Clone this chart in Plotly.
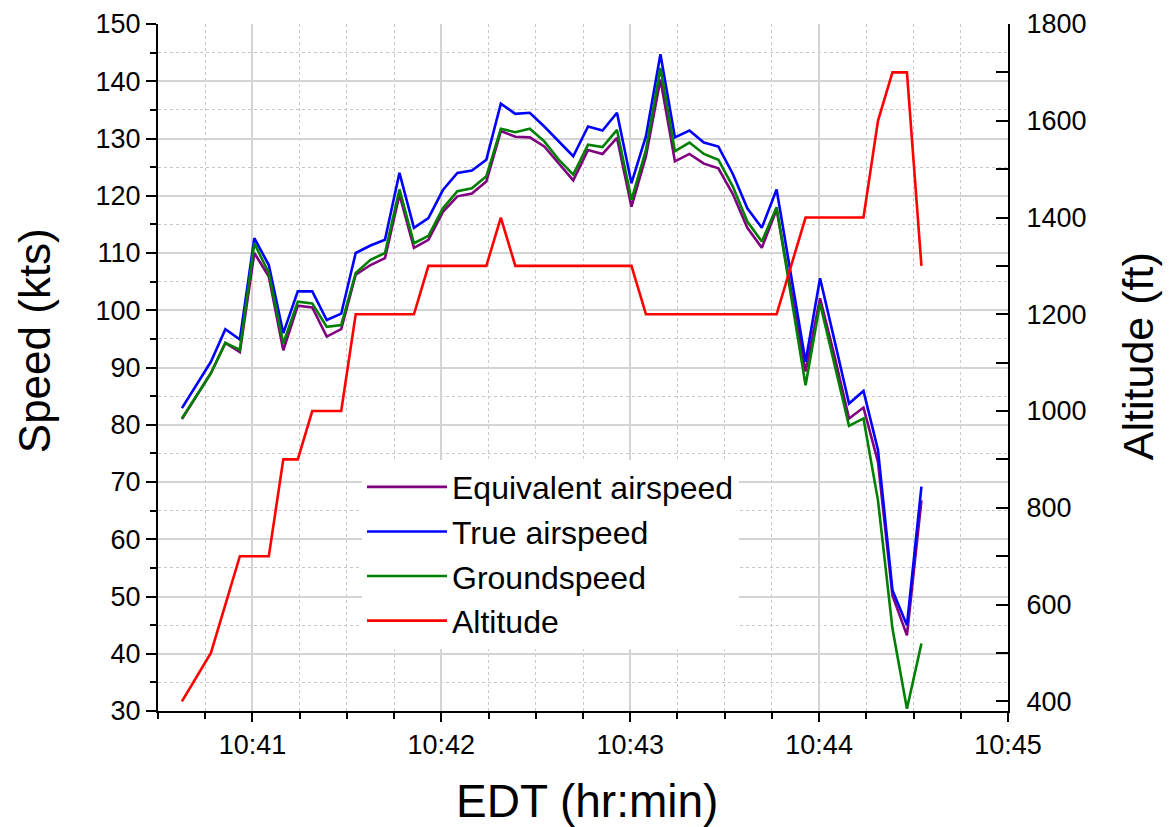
import plotly.graph_objects as go

DATE = "2015-06-20"

time_labels = [
    "10:40:37.6", "10:40:46.8", "10:40:51.4", "10:40:56.0",
    "10:41:00.6", "10:41:05.2", "10:41:09.8", "10:41:14.4", "10:41:19.0",
    "10:41:23.6", "10:41:28.2", "10:41:32.8", "10:41:37.5", "10:41:42.1",
    "10:41:46.7", "10:41:51.3", "10:41:55.9",
    "10:42:00.5", "10:42:05.1", "10:42:09.7", "10:42:14.3", "10:42:18.9",
    "10:42:23.5", "10:42:28.1", "10:42:32.7", "10:42:37.3", "10:42:41.9",
    "10:42:46.6", "10:42:51.2", "10:42:55.8",
    "10:43:00.4", "10:43:05.0", "10:43:09.6", "10:43:14.2", "10:43:18.8",
    "10:43:23.4", "10:43:28.0", "10:43:32.6", "10:43:37.2", "10:43:41.8",
    "10:43:46.5", "10:43:55.7",
    "10:44:00.3", "10:44:04.9", "10:44:09.5", "10:44:14.1", "10:44:18.7",
    "10:44:23.3", "10:44:27.9", "10:44:32.5",
]

equivalent_airspeed = [
    81.0, 89.0, 94.3, 92.7,
    110.0, 105.9, 93.0, 100.8, 100.5,
    95.4, 96.7, 106.2, 107.9, 109.1,
    120.2, 110.9, 112.3,
    117.2, 119.9, 120.4, 122.5, 131.3,
    130.3, 130.2, 128.6, 125.7, 122.7,
    128.0, 127.3, 130.1,
    118.1, 126.9, 140.3, 126.0, 127.3,
    125.6, 124.8, 120.3, 114.4, 110.9,
    117.6, 89.3,
    102.1, 92.0, 81.1, 83.0, 73.5,
    50.2, 43.2, 66.8,
]

true_airspeed = [
    82.9, 91.0, 96.7, 94.9,
    112.6, 107.9, 96.0, 103.3, 103.3,
    98.3, 99.4, 110.0, 111.3, 112.3,
    124.0, 114.4, 116.1,
    121.0, 124.0, 124.4, 126.3, 136.1,
    134.3, 134.5, 132.1, 129.5, 126.9,
    132.1, 131.4, 134.5,
    122.2, 130.4, 144.7, 130.2, 131.4,
    129.3, 128.6, 123.8, 117.8, 114.4,
    121.1, 91.0,
    105.6, 94.7, 83.7, 85.9, 75.6,
    51.1, 45.0, 69.2,
]

groundspeed = [
    81.1, 89.0, 94.3, 93.1,
    111.7, 106.5, 94.2, 101.5, 101.2,
    97.1, 97.4, 106.5, 108.8, 110.0,
    121.1, 111.7, 113.0,
    117.8, 120.8, 121.3, 123.4, 131.7,
    131.1, 131.7, 129.5, 126.3, 123.7,
    128.9, 128.5, 131.5,
    119.3, 128.0, 142.3, 127.8, 129.3,
    127.3, 126.3, 121.6, 115.5, 112.0,
    118.0, 86.9,
    101.2, 90.5, 79.8, 81.1, 66.8,
    44.4, 30.4, 41.8,
]

altitude = [
    400, 500, 600, 700,
    700, 700, 900, 900, 1000,
    1000, 1000, 1200, 1200, 1200,
    1200, 1200, 1300,
    1300, 1300, 1300, 1300, 1400,
    1300, 1300, 1300, 1300, 1300,
    1300, 1300, 1300,
    1300, 1200, 1200, 1200, 1200,
    1200, 1200, 1200, 1200, 1200,
    1200, 1400,
    1400, 1400, 1400, 1400, 1600,
    1700, 1700, 1300,
]

x_range = ["10:40:30", "10:45:00"]
first_major_tick = "10:41:00"

times = [f"{DATE} {t}" for t in time_labels]

FONT = "Liberation Sans, Arial, Helvetica, sans-serif"
LW = 2.6

fig = go.Figure()
fig.add_trace(go.Scatter(x=times, y=equivalent_airspeed, mode="lines",
                         name="Equivalent airspeed",
                         line=dict(color="#800080", width=LW)))
fig.add_trace(go.Scatter(x=times, y=true_airspeed, mode="lines",
                         name="True airspeed",
                         line=dict(color="#0000FF", width=LW)))
fig.add_trace(go.Scatter(x=times, y=groundspeed, mode="lines",
                         name="Groundspeed",
                         line=dict(color="#008000", width=LW)))
fig.add_trace(go.Scatter(x=times, y=altitude, mode="lines",
                         name="Altitude", yaxis="y2",
                         line=dict(color="#FF0000", width=LW)))

grid_solid = "#d4d4d4"
grid_dot = "#c8c8c8"

fig.update_layout(
    template="none",
    width=1164, height=819, autosize=False,
    margin=dict(l=150, r=164, t=16, b=116, autoexpand=False),
    paper_bgcolor="white", plot_bgcolor="white",
    font=dict(family=FONT, color="black", size=27),
    showlegend=True,
    legend=dict(
        x=0.24, y=0.366, xanchor="left", yanchor="top",
        bgcolor="white", borderwidth=0,
        font=dict(family=FONT, size=32, color="black"),
        itemwidth=80, tracegroupgap=0,
    ),
    xaxis=dict(
        type="date", automargin=False,
        range=[f"{DATE} {x_range[0]}", f"{DATE} {x_range[1]}"],
        tick0=f"{DATE} {first_major_tick}", dtick=60000,
        tickformat="%H:%M",
        ticks="outside", ticklen=9, tickwidth=2, tickcolor="black",
        showline=True, linewidth=2, linecolor="black",
        showgrid=True, gridcolor=grid_solid, gridwidth=1.5,
        zeroline=False,
        tickfont=dict(size=27),
        ticklabelstandoff=0,
        minor=dict(dtick=15000, ticks="outside", ticklen=6, tickwidth=2,
                   tickcolor="black", showgrid=True, gridcolor=grid_dot,
                   griddash="dot", gridwidth=1),
    ),
    yaxis=dict(
        automargin=False,
        range=[30, 150], tick0=30, dtick=10,
        ticks="outside", ticklen=10, tickwidth=2, tickcolor="black",
        showline=True, linewidth=2, linecolor="black",
        showgrid=True, gridcolor=grid_solid, gridwidth=1.5,
        zeroline=False,
        tickfont=dict(size=27),
        ticklabelstandoff=0,
        minor=dict(dtick=5, ticks="outside", ticklen=6, tickwidth=2,
                   tickcolor="black", showgrid=True, gridcolor=grid_dot,
                   griddash="dot", gridwidth=1),
    ),
    yaxis2=dict(
        automargin=False,
        overlaying="y", side="right",
        range=[380, 1800], tick0=400, dtick=200,
        ticks="inside", ticklen=12, tickwidth=2, tickcolor="black",
        showline=True, linewidth=2, linecolor="black",
        showgrid=False, zeroline=False,
        tickfont=dict(size=27),
        ticklabelstandoff=11,
        minor=dict(dtick=100, ticks="inside", ticklen=12, tickwidth=2,
                   tickcolor="black", showgrid=False),
    ),
    shapes=[
        # hide the grid line that would sit on the open top edge of the frame
        dict(type="line", xref="paper", yref="paper", x0=0, x1=1,
             y0=1, y1=1, layer="between",
             line=dict(color="white", width=3)),
    ],
    annotations=[
        dict(text="Speed (kts)", xref="paper", yref="paper",
             x=-0.1459, y=0.5397, xanchor="center", yanchor="middle",
             textangle=-90, showarrow=False, font=dict(size=44)),
        dict(text="Altitude (ft)", xref="paper", yref="paper",
             x=1.1529, y=0.5164, xanchor="center", yanchor="middle",
             textangle=-90, showarrow=False, font=dict(size=43)),
        dict(text="EDT (hr:min)", xref="paper", yref="paper",
             x=0.5047, y=-0.131, xanchor="center", yanchor="middle",
             showarrow=False, font=dict(size=46)),
    ],
)

fig.write_html("out.html")
